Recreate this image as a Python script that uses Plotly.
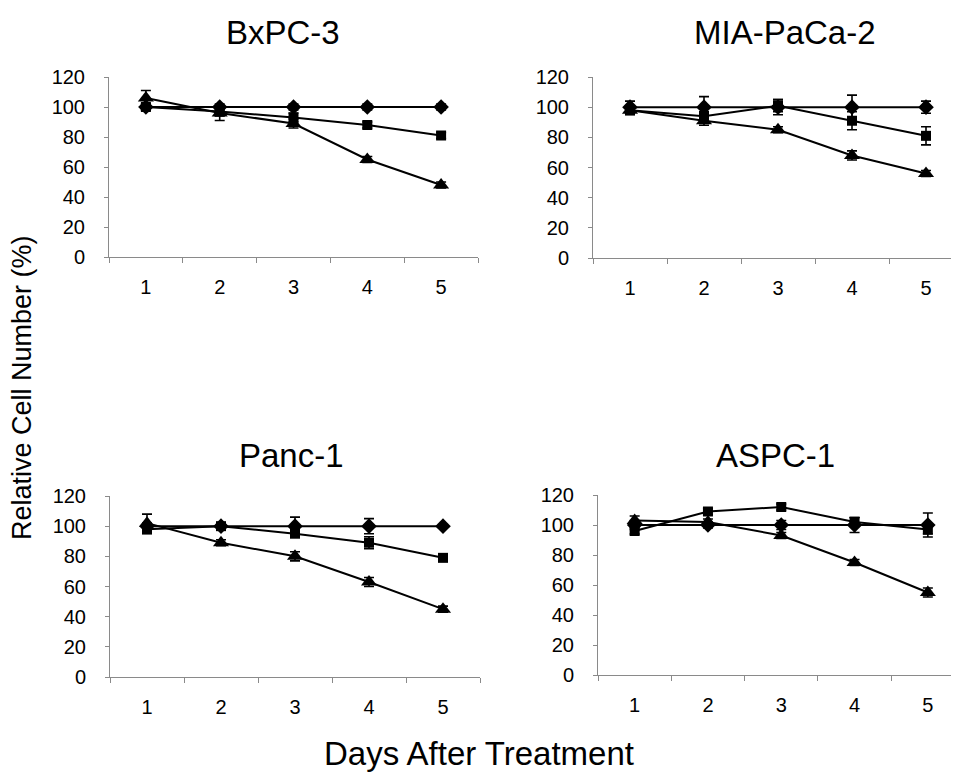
import plotly.graph_objects as go

days = [1, 2, 3, 4, 5]
panels = ["BxPC-3", "MIA-PaCa-2", "Panc-1", "ASPC-1"]

# control (diamond), square, triangle series, with error values
bx_diamond = [100, 100, 100, 100, 100]
bx_diamond_err = [2, 2, 2, 2, 2]
bx_square = [100, 97, 93, 88, 81]
bx_square_err = [2, 3, 3, 2, 2]
bx_triangle = [106, 96, 89, 65, 48]
bx_triangle_err = [5, 5, 3, 2, 2]

mia_diamond = [100, 100, 100, 100, 100]
mia_diamond_err = [4, 7, 5, 8, 4]
mia_square = [98, 94, 101, 91, 81]
mia_square_err = [3, 3, 4, 6, 6]
mia_triangle = [98, 91, 85, 68, 56]
mia_triangle_err = [2, 3, 2, 3, 2]

panc_diamond = [100, 100, 100, 100, 100]
panc_diamond_err = [2, 2, 6, 5, 1]
panc_square = [98, 100, 95, 89, 79]
panc_square_err = [3, 1, 2, 4, 2]
panc_triangle = [102, 89, 80, 63, 45]
panc_triangle_err = [6, 2, 3, 3, 2]

aspc_diamond = [100, 100, 100, 100, 100]
aspc_diamond_err = [3, 2, 3, 5, 8]
aspc_square = [96, 109, 112, 102, 97]
aspc_square_err = [2, 2, 2, 3, 3]
aspc_triangle = [103, 102, 93, 75, 55]
aspc_triangle_err = [3, 2, 2, 2, 3]

y_ticks = [0, 20, 40, 60, 80, 100, 120]

# the page body adds an 8px offset; the figure is sized to fit the window
OFF = 8
W, H = 959 - OFF, 778 - OFF
FONT = "Arial, Liberation Sans, sans-serif"

panel_series = [
    [(bx_diamond, bx_diamond_err), (bx_square, bx_square_err), (bx_triangle, bx_triangle_err)],
    [(mia_diamond, mia_diamond_err), (mia_square, mia_square_err), (mia_triangle, mia_triangle_err)],
    [(panc_diamond, panc_diamond_err), (panc_square, panc_square_err), (panc_triangle, panc_triangle_err)],
    [(aspc_diamond, aspc_diamond_err), (aspc_square, aspc_square_err), (aspc_triangle, aspc_triangle_err)],
]
symbols = ["diamond", "square", "triangle-up"]
msizes = [12, 10, 14]

# window-pixel boxes: (x0, x1, y_top, y_bottom, category width)
boxes = [
    (109, 478, 77, 257, 73.8),
    (593, 959, 77, 258, 74.0),
    (110, 480, 496, 677, 74.0),
    (598, 959, 495, 675, 73.3),
]
title_pos = [(283, 33), (785, 33), (291, 455), (775, 455)]


def px(x):
    return (x - OFF) / W


def py(y):
    return 1 - (y - OFF) / H


fig = go.Figure()
layout = dict(
    width=W, height=H, margin=dict(l=0, r=0, t=0, b=0, autoexpand=False),
    paper_bgcolor="white", plot_bgcolor="white", showlegend=False,
    font=dict(family=FONT, color="black"),
)
annotations = []
for i, (series, box) in enumerate(zip(panel_series, boxes)):
    x0, x1, yt, yb, cw = box
    xa = "xaxis" if i == 0 else f"xaxis{i+1}"
    ya = "yaxis" if i == 0 else f"yaxis{i+1}"
    xr = "x" if i == 0 else f"x{i+1}"
    yr = "y" if i == 0 else f"y{i+1}"
    for k, (vals, errs) in enumerate(series):
        fig.add_trace(go.Scatter(
            x=[str(d) for d in days], y=vals, xaxis=xr, yaxis=yr,
            mode="lines+markers",
            line=dict(color="black", width=2),
            marker=dict(symbol=symbols[k], size=msizes[k], color="black"),
            error_y=dict(type="data", array=errs, visible=True,
                         color="black", thickness=1.6, width=5),
            cliponaxis=False,
        ))
    x1c = min(x1, 959)
    span = (x1c - x0) / cw
    layout[xa] = dict(
        type="category", domain=[max(0, px(x0)), min(1, px(x1c))], range=[-0.5, -0.5 + span],
        anchor=yr, showline=True, linecolor="#8a8a8a", linewidth=1,
        ticks="outside", ticklen=5, tickcolor="#8a8a8a", tickson="boundaries",
        showgrid=False, zeroline=False, tickfont=dict(size=20, family=FONT),
        ticklabelstandoff=12, fixedrange=True, automargin=False,
    )
    layout[ya] = dict(
        domain=[py(yb), py(yt)], range=[0, 120], anchor=xr,
        tickmode="array", tickvals=y_ticks, showline=True, linecolor="#8a8a8a",
        linewidth=1, ticks="outside", ticklen=4, tickcolor="#8a8a8a",
        showgrid=False, zeroline=False, tickfont=dict(size=20, family=FONT),
        ticklabelstandoff=15, fixedrange=True, automargin=False,
    )
    tx, ty = title_pos[i]
    annotations.append(dict(
        text=panels[i], x=px(tx), y=py(ty), xref="paper", yref="paper",
        xanchor="center", yanchor="middle", showarrow=False,
        font=dict(size=33, family=FONT),
    ))

annotations.append(dict(
    text="Relative Cell Number (%)", x=px(22), y=py(388), xref="paper", yref="paper",
    xanchor="center", yanchor="middle", showarrow=False, textangle=-90,
    font=dict(size=27, family=FONT),
))
annotations.append(dict(
    text="Days After Treatment", x=px(479), y=py(753), xref="paper", yref="paper",
    xanchor="center", yanchor="middle", showarrow=False,
    font=dict(size=33, family=FONT),
))
layout["annotations"] = annotations
fig.update_layout(**layout)
fig.write_html("out.html")
